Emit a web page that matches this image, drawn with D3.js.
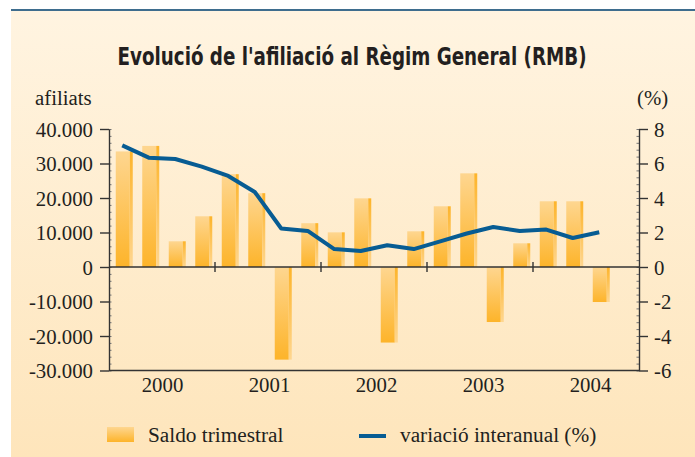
<!DOCTYPE html>
<html>
<head>
<meta charset="utf-8">
<script src="https://cdn.jsdelivr.net/npm/d3@7"></script>
<style>
  html, body { margin: 0; padding: 0; background: #fff; }
  svg { display: block; }
  text { fill: #231f20; }
</style>
</head>
<body>
<svg id="chart" width="695" height="457"></svg>
<script>
// Quarterly data, 2000 T1 .. 2004 T3
const years = ["2000", "2001", "2002", "2003", "2004"];
const quarters = years.flatMap(y => ["T1", "T2", "T3", "T4"].map(q => y + q));
// Saldo trimestral (afiliats)
const saldo = [33500, 35100, 7450, 14700,
               26900, 21400, -26850, 12700,
               10050, 19900, -21900, 10350,
               17600, 27150, -15950, 6870,
               19050, 19050, -10150];
// Variació interanual (%)
const variacio = [7.05, 6.34, 6.26, 5.82,
                  5.28, 4.35, 2.23, 2.09,
                  1.04, 0.93, 1.26, 1.04,
                  1.49, 1.94, 2.32, 2.09,
                  2.17, 1.68, 2.01];
const leftTicks = [-30000, -20000, -10000, 0, 10000, 20000, 30000, 40000];
const rightTicks = [-6, -4, -2, 0, 2, 4, 6, 8];

const svg = d3.select("#chart");
const W = 695, H = 457;
const defs = svg.append("defs");

// Panel background gradient
const bg = defs.append("linearGradient").attr("id", "bg").attr("x1", 0).attr("y1", 0).attr("x2", 0).attr("y2", 1);
bg.append("stop").attr("offset", "0%").attr("stop-color", "#fff4e1");
bg.append("stop").attr("offset", "100%").attr("stop-color", "#fee5bb");

// Bar face and side gradients
const face = defs.append("linearGradient").attr("id", "face").attr("x1", 0).attr("y1", 0).attr("x2", 0).attr("y2", 1);
face.append("stop").attr("offset", "0%").attr("stop-color", "#fed690");
face.append("stop").attr("offset", "100%").attr("stop-color", "#fdb42a");
const side = defs.append("linearGradient").attr("id", "side").attr("x1", 0).attr("y1", 0).attr("x2", 0).attr("y2", 1);
side.append("stop").attr("offset", "0%").attr("stop-color", "#fdb42a");
side.append("stop").attr("offset", "100%").attr("stop-color", "#fed690");

svg.append("rect").attr("x", 11).attr("y", 11).attr("width", W - 11).attr("height", H - 11).attr("fill", "url(#bg)");
svg.append("rect").attr("x", 11).attr("y", 9).attr("width", W - 11).attr("height", 2).attr("fill", "#3e6d8e");

// Title
svg.append("text")
  .attr("x", 352).attr("y", 65)
  .attr("text-anchor", "middle")
  .attr("textLength", 469).attr("lengthAdjust", "spacingAndGlyphs")
  .style("font-family", "'Liberation Sans Narrow', 'DejaVu Sans Condensed', 'Roboto', sans-serif")
  .style("font-weight", "bold").style("font-size", "25px")
  .text("Evolució de l'afiliació al Règim General (RMB)");

const serif = "'Liberation Serif', 'DejaVu Serif', serif";
const labelSize = "20.8px";

// Scales
const plotLeft = 109, plotRight = 639, plotTop = 129, plotBottom = 370.5;
const x = d3.scaleBand().domain(quarters).range([plotLeft, plotRight]).padding(0);
const yL = d3.scaleLinear().domain([-30000, 40000]).range([plotBottom, plotTop]);
const yR = d3.scaleLinear().domain([-6, 8]).range([plotBottom, plotTop]);
const yearX = d3.scalePoint().domain(years).range([162.5, 590.5]);

const locale = d3.formatLocale({ decimal: ",", thousands: ".", grouping: [3], currency: ["", ""], minus: "-" });
const fmtL = locale.format(",");
const fmtR = locale.format("d");

// Bars
const cx = i => x(quarters[i]) + x.bandwidth() / 2;
const bars = svg.append("g");
saldo.forEach((v, i) => {
  const y0 = yL(Math.max(0, v)), h = Math.abs(yL(v) - yL(0));
  bars.append("rect").attr("x", cx(i) - 6.5).attr("y", y0).attr("width", 14).attr("height", h).attr("fill", "url(#face)");
  bars.append("rect").attr("x", cx(i) + 7.5).attr("y", y0).attr("width", 3).attr("height", h).attr("fill", "url(#side)");
});

// Axes
const axisColor = "#333";
function styleAxis(g) {
  g.selectAll("path").attr("stroke", axisColor).attr("stroke-width", 1.4);
  g.selectAll("line").attr("stroke", axisColor).attr("stroke-width", 1.4);
  g.selectAll("text").style("font-family", serif).style("font-size", labelSize).attr("fill", "#231f20");
}

// minor ticks
svg.append("g").attr("transform", `translate(${plotLeft},0)`)
  .call(d3.axisRight(yL).tickValues(d3.range(-30000, 40001, 2000)).tickSize(2.5).tickFormat(""))
  .call(g => g.select("path").remove())
  .call(g => g.selectAll("line").attr("stroke", "#777").attr("stroke-width", 1));
svg.append("g").attr("transform", `translate(${plotRight},0)`)
  .call(d3.axisLeft(yR).tickValues(d3.range(-6, 8.01, 0.4)).tickSize(2.5).tickFormat(""))
  .call(g => g.select("path").remove())
  .call(g => g.selectAll("line").attr("stroke", "#777").attr("stroke-width", 1));

svg.append("g").attr("transform", `translate(${plotLeft},0)`)
  .call(d3.axisLeft(yL).tickValues(leftTicks).tickFormat(d => d === 0 ? "0" : fmtL(d)).tickSize(9).tickSizeOuter(0).tickPadding(7))
  .call(g => g.selectAll("text").attr("dy", "0.34em"))
  .call(styleAxis);

svg.append("g").attr("transform", `translate(${plotRight},0)`)
  .call(d3.axisRight(yR).tickValues(rightTicks).tickFormat(fmtR).tickSize(9).tickSizeOuter(0).tickPadding(6))
  .call(g => g.selectAll("text").attr("dy", "0.34em"))
  .call(styleAxis);

// zero line and bottom line
svg.append("line").attr("x1", plotLeft).attr("x2", plotRight).attr("y1", yL(0)).attr("y2", yL(0)).attr("stroke", axisColor).attr("stroke-width", 1.4);
svg.append("line").attr("x1", plotLeft).attr("x2", plotRight).attr("y1", plotBottom).attr("y2", plotBottom).attr("stroke", axisColor).attr("stroke-width", 1.4);

// year separators on the zero line
[4, 8, 12, 16].forEach(i => {
  svg.append("line").attr("x1", x(quarters[i])).attr("x2", x(quarters[i]))
    .attr("y1", yL(0) - 5).attr("y2", yL(0) + 5).attr("stroke", axisColor).attr("stroke-width", 1.4);
});

// year labels
svg.append("g").selectAll("text").data(years).join("text")
  .attr("x", d => yearX(d)).attr("y", 392)
  .attr("text-anchor", "middle")
  .style("font-family", serif).style("font-size", labelSize)
  .text(d => d);

// axis titles
svg.append("text").attr("x", 35).attr("y", 105).style("font-family", serif).style("font-size", labelSize).text("afiliats");
svg.append("text").attr("x", 637).attr("y", 105).style("font-family", serif).style("font-size", labelSize).text("(%)");

// Line
const line = d3.line().x((d, i) => cx(i)).y(d => yR(d));
svg.append("path").datum(variacio).attr("d", line)
  .attr("fill", "none").attr("stroke", "#075c93").attr("stroke-width", 4).attr("stroke-linejoin", "round");

// Legend
svg.append("rect").attr("x", 107).attr("y", 427).attr("width", 27).attr("height", 15).attr("fill", "url(#face)");
svg.append("text").attr("x", 148).attr("y", 442).style("font-family", serif).style("font-size", "21.3px").text("Saldo trimestral");
svg.append("line").attr("x1", 359).attr("x2", 386).attr("y1", 436).attr("y2", 436).attr("stroke", "#075c93").attr("stroke-width", 4);
svg.append("text").attr("x", 400).attr("y", 442).style("font-family", serif).style("font-size", "21.3px").text("variació interanual (%)");
</script>
</body>
</html>
